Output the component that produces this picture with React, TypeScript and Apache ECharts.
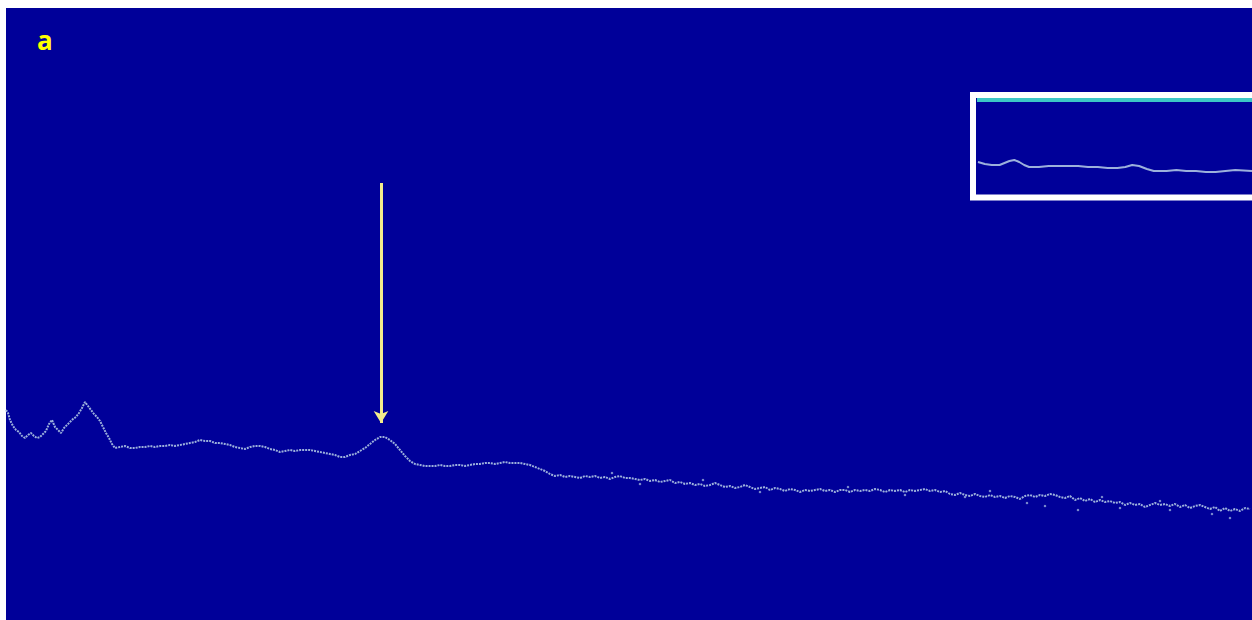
import React, { useEffect, useRef } from "react";
import * as echarts from "echarts";

// Main spectrum: [channel, intensity (a.u.)]
const spectrum: [number, number][] = [
  [6, 210], [8, 207], [10, 200], [13, 194], [16, 190], [19, 188], [22, 184], [25, 182], [28, 185], [31, 187],
  [34, 184], [37, 182], [40, 183], [43, 186], [46, 189], [49, 196], [52, 200], [55, 193], [58, 190], [61, 187],
  [64, 192], [67, 195], [70, 198], [73, 201], [76, 203], [79, 207], [82, 212], [85, 218], [88, 214], [91, 210],
  [94, 206], [97, 203], [100, 199], [103, 193], [106, 187], [109, 182], [112, 176], [115, 172], [120, 173], [125, 174],
  [130, 172], [135, 172], [140, 173], [145, 173], [150, 174], [155, 173], [160, 174], [165, 174], [170, 175], [175, 174],
  [180, 175], [185, 176], [190, 177], [195, 178], [200, 180], [205, 179], [210, 179], [215, 177], [220, 177], [225, 176],
  [230, 175], [235, 173], [240, 172], [245, 171], [250, 173], [255, 174], [260, 174], [265, 173], [270, 171], [275, 170],
  [280, 168], [285, 169], [290, 170], [295, 169], [300, 170], [305, 170], [310, 170], [315, 169], [320, 168], [325, 167],
  [330, 166], [335, 165], [340, 163], [345, 163], [350, 165], [355, 166], [360, 169], [365, 172], [370, 176], [375, 180],
  [380, 183], [385, 183], [390, 180], [395, 176], [400, 170], [405, 164], [410, 159], [415, 156], [420, 155], [425, 154],
  [430, 154], [435, 154], [440, 155], [445, 154], [450, 154], [455, 155], [460, 155], [465, 154], [470, 155], [475, 156],
  [480, 156], [485, 157], [490, 157], [495, 156], [500, 157], [505, 158], [510, 157], [515, 157], [520, 157], [525, 156],
  [530, 155], [535, 153], [540, 151], [545, 149], [550, 146], [555, 144], [560, 145], [565, 143], [570, 144], [575, 143],
  [580, 142], [585, 144], [590, 143], [595, 144], [600, 142], [605, 143], [610, 141], [615, 143], [620, 144], [625, 142],
  [630, 142], [635, 141], [640, 140], [645, 141], [650, 139], [655, 140], [660, 138], [665, 139], [670, 140], [675, 137],
  [680, 138], [685, 136], [690, 137], [695, 135], [700, 136], [705, 134], [710, 135], [715, 137], [720, 135], [725, 133],
  [730, 134], [735, 132], [740, 133], [745, 135], [750, 133], [755, 131], [760, 132], [765, 133], [770, 130], [775, 132],
  [780, 131], [785, 129], [790, 131], [795, 130], [800, 128], [805, 130], [810, 129], [815, 130], [820, 131], [825, 129],
  [830, 130], [835, 128], [840, 130], [845, 130], [850, 128], [855, 130], [860, 129], [865, 130], [870, 129], [875, 131],
  [880, 130], [885, 128], [890, 130], [895, 129], [900, 130], [905, 128], [910, 130], [915, 129], [920, 130], [925, 131],
  [930, 129], [935, 130], [940, 128], [945, 129], [950, 126], [955, 125], [960, 127], [965, 125], [970, 124], [975, 126],
  [980, 124], [985, 123], [990, 125], [995, 123], [1000, 124], [1005, 122], [1010, 124], [1015, 123], [1020, 121], [1025, 124],
  [1030, 125], [1035, 123], [1040, 125], [1045, 124], [1050, 126], [1055, 125], [1060, 123], [1065, 122], [1070, 124], [1075, 120],
  [1080, 122], [1085, 119], [1090, 121], [1095, 118], [1100, 120], [1105, 118], [1110, 119], [1115, 117], [1120, 118], [1125, 115],
  [1130, 117], [1135, 115], [1140, 116], [1145, 113], [1150, 115], [1155, 117], [1160, 115], [1165, 116], [1170, 114], [1175, 116],
  [1180, 113], [1185, 115], [1190, 112], [1195, 114], [1200, 115], [1205, 113], [1210, 111], [1215, 113], [1220, 109], [1225, 112],
  [1230, 109], [1235, 111], [1240, 109], [1245, 112], [1250, 111],
];

// Scattered noise points off the main trace
const noisePoints: [number, number][] = [
  [640, 136], [760, 128], [965, 123], [1027, 117], [1045, 114], [1078, 110], [1120, 112], [1170, 110], [1230, 102], [1212, 106],
  [612, 147], [703, 140], [848, 133], [905, 125], [990, 129], [1102, 123], [1160, 119],
];

// Peak marked by the arrow: [channel, arrow top, arrow tip]
const arrowMark = { channel: 381, top: 437, tip: 197 };

// Inset spectra
const insetTrace: [number, number][] = [
  [978, 32], [985, 30], [992, 29], [1000, 29], [1005, 31], [1010, 33], [1015, 34], [1020, 32], [1025, 29], [1030, 27],
  [1040, 27], [1050, 28], [1060, 28], [1070, 28], [1080, 28], [1090, 27], [1100, 27], [1110, 26], [1120, 26], [1128, 27],
  [1135, 29], [1142, 28], [1150, 25], [1157, 23], [1170, 23], [1180, 24], [1190, 23], [1200, 23], [1210, 22], [1220, 22],
  [1230, 23], [1240, 24], [1257, 23],
];
const insetReference: [number, number][] = [[977, 94], [1257, 94]];

const panelLabel = "a";

export default function App() {
  const ref = useRef<HTMLDivElement>(null);
  useEffect(() => {
    if (!ref.current) return;
    const chart = echarts.init(ref.current, null, { renderer: "svg" });
    const traceColor = "#9cb0dc";
    chart.setOption({
      animation: false,
      backgroundColor: "#ffffff",
      title: {
        text: panelLabel,
        left: 37,
        top: 27,
        padding: 0,
        textStyle: { color: "#ffff00", fontWeight: "bold", fontSize: 26, fontFamily: "Open Sans" },
      },
      grid: [
        { left: 6, top: 8, right: 0, bottom: 0, show: true, backgroundColor: "#000099", borderWidth: 0 },
        { left: 977, top: 98, width: 280, height: 96, show: true, backgroundColor: "#000099", borderWidth: 0 },
      ],
      xAxis: [
        { type: "value", gridIndex: 0, min: 6, max: 1252, show: false },
        { type: "value", gridIndex: 1, min: 977, max: 1257, show: false },
      ],
      yAxis: [
        { type: "value", gridIndex: 0, min: 0, max: 612, show: false },
        { type: "value", gridIndex: 1, min: 0, max: 96, show: false },
      ],
      series: [
        {
          type: "line",
          xAxisIndex: 0,
          yAxisIndex: 0,
          data: spectrum,
          showSymbol: false,
          lineStyle: { color: traceColor, width: 2, type: [2, 1] },
          markLine: {
            silent: true,
            symbol: ["none", "arrow"],
            symbolSize: [11, 12],
            label: { show: false },
            lineStyle: { color: "#f3ec8c", width: 3, type: "solid" },
            data: [
              [
                { coord: [arrowMark.channel, arrowMark.top] },
                { coord: [arrowMark.channel, arrowMark.tip] },
              ],
            ],
          },
        },
        {
          type: "scatter",
          xAxisIndex: 0,
          yAxisIndex: 0,
          data: noisePoints,
          symbolSize: 2.5,
          itemStyle: { color: traceColor },
        },
        {
          type: "line",
          xAxisIndex: 1,
          yAxisIndex: 1,
          data: insetTrace,
          showSymbol: false,
          lineStyle: { color: traceColor, width: 2 },
        },
        {
          type: "line",
          xAxisIndex: 1,
          yAxisIndex: 1,
          data: insetReference,
          showSymbol: false,
          lineStyle: { color: "#3cc6c6", width: 4 },
        },
      ],
      graphic: [
        {
          type: "rect",
          z: 10,
          shape: { x: 973, y: 95, width: 300, height: 102.5 },
          style: { fill: "none", stroke: "#ffffff", lineWidth: 6 },
        },
      ],
    });
    return () => chart.dispose();
  }, []);
  return (
    <div
      ref={ref}
      style={{ position: "absolute", left: 0, top: 0, width: 1252, height: 620 }}
    />
  );
}
